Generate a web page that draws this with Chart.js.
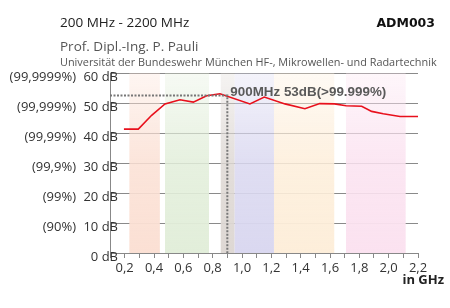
<!DOCTYPE html>
<html>
<head>
<meta charset="utf-8">
<script src="https://cdn.jsdelivr.net/npm/chart.js@4"></script>
<style>
html,body{margin:0;padding:0;background:#fff;}
#wrap{position:relative;width:450px;height:308px;}
</style>
</head>
<body>
<div id="wrap"><canvas id="c" width="450" height="308"></canvas></div>
<script>
// ---- data ----
const freqGHz = [0.195, 0.293, 0.384, 0.475, 0.577, 0.668, 0.759, 0.85, 1.054, 1.152, 1.293, 1.429, 1.53, 1.63, 1.71, 1.816, 1.884, 1.963, 2.077, 2.2];
const attenDb = [41.3, 41.3, 45.9, 49.7, 51.1, 50.3, 52.4, 53.1, 49.7, 52.0, 49.7, 48.1, 49.8, 49.7, 49.1, 48.9, 47.2, 46.4, 45.5, 45.5];

const yTickValues = [0, 10, 20, 30, 40, 50, 60];
const yTickLabels = ['0 dB', '10 dB', '20 dB', '30 dB', '40 dB', '50 dB', '60 dB'];
const yPctLabels = ['', '(90%)', '(99%)', '(99,9%)', '(99,99%)', '(99,999%)', '(99,9999%)'];
const xTickLabels = ['0,2', '0,4', '0,6', '0,8', '1,0', '1,2', '1,4', '1,6', '1,8', '2,0', '2,2'];

const bandStart = [0.232, 0.475, 0.855, 0.95, 1.218, 1.709];
const bandEnd   = [0.44, 0.775, 0.95, 1.218, 1.629, 2.116];
const bandColor = ['251,224,212', '226,238,218', '222,216,212', '218,216,240', '253,238,218', '251,226,240'];

const markerGHz = 0.9;
const markerDb = 52.5;
const markerText = '900MHz 53dB(>99.999%)';

const titleText = '200 MHz - 2200 MHz';
const codeText = 'ADM003';
const authorText = 'Prof. Dipl.-Ing. P. Pauli';
const instText = 'Universität der Bundeswehr München HF-, Mikrowellen- und Radartechnik';
const xUnitText = 'in GHz';

const bandsPlugin = {
  id: 'bands',
  beforeDatasetsDraw(chart) {
    const {ctx, chartArea, scales} = chart;
    ctx.save();
    for (let i = 0; i < bandStart.length; i++) {
      const x0 = scales.x.getPixelForValue(bandStart[i]);
      const x1 = scales.x.getPixelForValue(bandEnd[i]);
      const g = ctx.createLinearGradient(0, chartArea.top, 0, chartArea.bottom);
      g.addColorStop(0, 'rgba(' + bandColor[i] + ',0.3)');
      g.addColorStop(0.5, 'rgba(' + bandColor[i] + ',0.85)');
      g.addColorStop(1, 'rgba(' + bandColor[i] + ',1)');
      ctx.fillStyle = g;
      ctx.fillRect(x0, chartArea.top, x1 - x0, chartArea.bottom - chartArea.top);
    }
    ctx.restore();
  }
};

const textPlugin = {
  id: 'texts',
  afterDraw(chart) {
    const {ctx, scales} = chart;
    ctx.save();
    ctx.textBaseline = 'middle';
    ctx.textAlign = 'right';
    ctx.fillStyle = '#333';
    ctx.font = '13px "Open Sans"';
    for (let i = 0; i < yTickValues.length; i++) {
      const y = scales.y.getPixelForValue(yTickValues[i]) + 4;
      ctx.fillText(yTickLabels[i], 118, y);
      if (yPctLabels[i]) ctx.fillText(yPctLabels[i], 76, y);
    }
    // marker annotation
    ctx.textAlign = 'left';
    ctx.fillStyle = '#5a5a5a';
    ctx.font = 'bold 13.4px "Liberation Sans"';
    ctx.fillText(markerText, scales.x.getPixelForValue(markerGHz) + 3, scales.y.getPixelForValue(markerDb) - 3);
    // unit
    ctx.textAlign = 'right';
    ctx.fillStyle = '#222';
    ctx.font = 'bold 13px "Open Sans"';
    ctx.fillText(xUnitText, 444, 280);
    // header
    ctx.textBaseline = 'alphabetic';
    ctx.textAlign = 'left';
    ctx.fillStyle = '#222';
    ctx.font = '13.5px "Open Sans"';
    ctx.fillText(titleText, 60, 27);
    ctx.textAlign = 'right';
    ctx.font = 'bold 12.5px "DejaVu Sans"';
    ctx.fillStyle = '#111';
    ctx.fillText(codeText, 435, 27);
    ctx.textAlign = 'left';
    ctx.fillStyle = '#555';
    ctx.font = '13.5px "Open Sans"';
    ctx.fillText(authorText, 60, 51);
    ctx.font = '10.9px "Open Sans"';
    ctx.fillText(instText, 60, 66);
    ctx.restore();
  }
};

new Chart(document.getElementById('c'), {
  type: 'line',
  data: {
    datasets: [
      {
        data: [{x: 0.1, y: markerDb}, {x: markerGHz, y: markerDb}, {x: markerGHz, y: 0}],
        borderColor: '#777',
        borderWidth: 2,
        borderDash: [2, 1.5],
        pointRadius: 0,
        fill: false,
        tension: 0
      },
      {
        data: freqGHz.map((f, i) => ({x: f, y: attenDb[i]})),
        borderColor: '#e8101c',
        borderWidth: 1.6,
        pointRadius: 0,
        fill: false,
        tension: 0
      }
    ]
  },
  options: {
    responsive: false,
    animation: false,
    events: [],
    layout: {padding: {left: 110, top: 73, right: 32, bottom: 0}},
    plugins: {legend: {display: false}, tooltip: {enabled: false}},
    scales: {
      x: {
        type: 'linear',
        min: 0.1,
        max: 2.2,
        afterFit(s) { s.height = 55; },
        grid: {drawOnChartArea: false, drawTicks: true, tickLength: 5, color: '#888'},
        border: {display: true, color: '#888'},
        ticks: {
          stepSize: 0.1,
          autoSkip: false,
          maxRotation: 0,
          padding: 2,
          color: '#333',
          font: {family: 'Open Sans', size: 13},
          callback(v) {
            const k = Math.round(v * 10);
            return k % 2 === 0 ? xTickLabels[k / 2 - 1] : '';
          }
        }
      },
      y: {
        min: 0,
        max: 60,
        afterFit(s) { s.width = 0; },
        grid: {color: '#8a8a8a', drawTicks: false},
        border: {display: true, color: '#888'},
        ticks: {stepSize: 10, display: false}
      }
    }
  },
  plugins: [bandsPlugin, textPlugin]
});
</script>
</body>
</html>
